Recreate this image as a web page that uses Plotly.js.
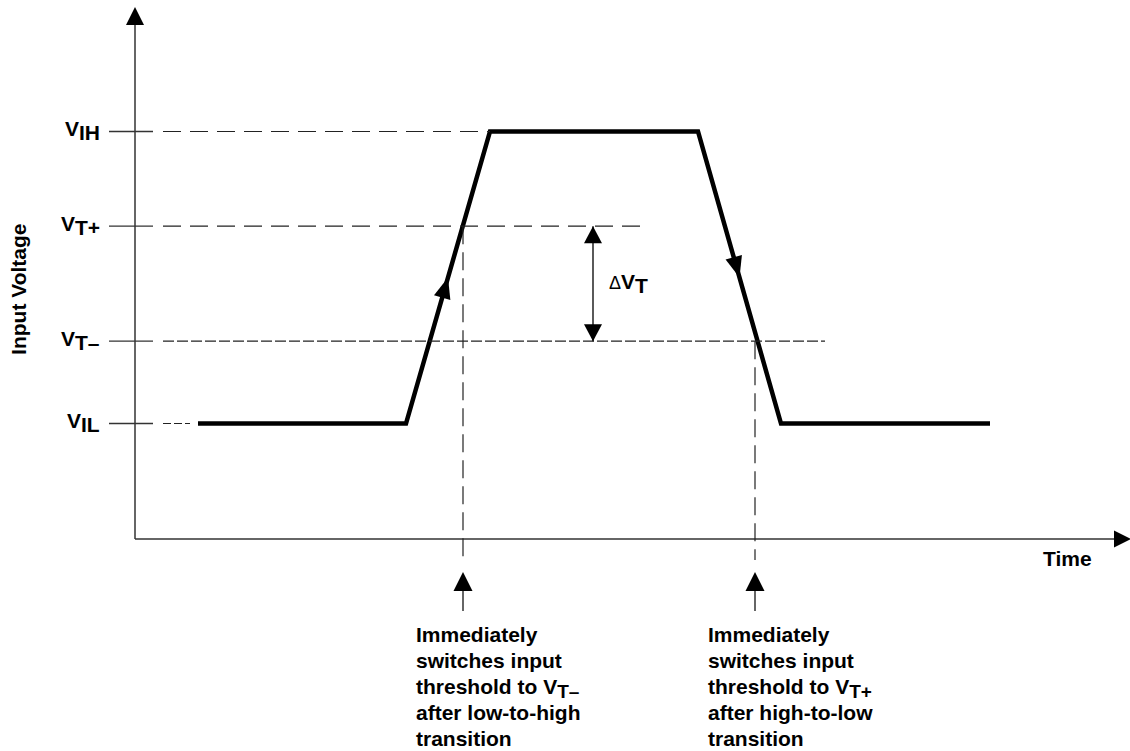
<!DOCTYPE html>
<html><head><meta charset="utf-8">
<script src="https://cdn.plot.ly/plotly-3.0.1.min.js"></script>
<style>html,body{margin:0;padding:0;background:#fff}</style>
</head><body><div id="chart" style="width:1130px;height:751px"></div>
<script>
// ---- data ----
const levelSubs  = ['IL', 'T–', 'T+', 'IH'];          // V_IL, V_T-, V_T+, V_IH
const levelVolts = [0, 0.93, 2.23, 3.3];               // input voltage levels
const guideEnd   = [5.5, 69.0, 51.0, 35.5];            // time where each dashed guide stops
const waveTime   = [6.3, 27.1, 35.5, 56.3, 64.6, 85.5];
const waveVolt   = [0, 0, 3.3, 3.3, 0, 0];
const switchTime = [32.8, 62.0];                        // threshold switching instants
const switchLevel= [2.23, 0.93];
const noteSubs   = ['T–', 'T+'];
const noteEdges  = ['low-to-high', 'high-to-low'];
const deltaTime  = 45.8;                                // position of the ΔVT arrow

// ---- frame / scales ----
const W = 1130, H = 751;
const xRange = [-13.5, 99.5];
const yRange = [-3.701, 4.786];
const kx = W / (xRange[1] - xRange[0]);
const ky = H / (yRange[1] - yRange[0]);
const vAxis = -1.305, yTop = 4.504, xEnd = 97.9, guideStart = 2.8, vBottom = -1.543;

const FONT = 'Arial, "Liberation Sans", Helvetica, sans-serif';
const INK = '#000';
const AX = '#333';

const shapes = [];
const annotations = [];

// axes
shapes.push({type:'line', xref:'x', yref:'y', x0:0, x1:0, y0:vAxis, y1:yTop, line:{color:AX, width:1.5}});
shapes.push({type:'line', xref:'x', yref:'y', x0:0, x1:xEnd, y0:vAxis, y1:vAxis, line:{color:AX, width:1.5}});
shapes.push({type:'path', xref:'x', yref:'y', xsizemode:'pixel', ysizemode:'pixel', xanchor:0, yanchor:yTop,
  path:'M-9,0L9,0L0,18Z', fillcolor:INK, line:{width:0}});
shapes.push({type:'path', xref:'x', yref:'y', xsizemode:'pixel', ysizemode:'pixel', xanchor:xEnd, yanchor:vAxis,
  path:'M0,-8.5L0,8.5L17,0Z', fillcolor:INK, line:{width:0}});

// level ticks, guides and labels
const dashes = ['8px,3px', '11px,3px', '18px,9px', '18px,9px'];
levelVolts.forEach((v, i) => {
  shapes.push({type:'line', xref:'x', yref:'y', xsizemode:'pixel', xanchor:0, x0:-26, x1:18, y0:v, y1:v,
    line:{color:AX, width:1.3}});
  shapes.push({type:'line', xref:'x', yref:'y', x0:guideStart, x1:guideEnd[i], y0:v, y1:v,
    line:{color:'#222', width:1.2, dash:dashes[i]}});
  annotations.push({xref:'x', yref:'y', x:-3.3, y:v, xanchor:'right', yanchor:'middle', showarrow:false,
    text:'V<sub><span style="font-size:21px">' + levelSubs[i] + '</span></sub>',
    font:{family:FONT, size:21, color:INK, weight:700}, yshift:1});
});

// switching verticals, up arrows and notes (one annotation per line)
switchTime.forEach((t, i) => {
  shapes.push({type:'line', xref:'x', yref:'y', x0:t, x1:t, y0:switchLevel[i], y1:vBottom,
    line:{color:'#222', width:1.2, dash:'18px,8px'}});
  shapes.push({type:'path', xref:'x', yref:'y', xsizemode:'pixel', ysizemode:'pixel', xanchor:t, yanchor:vAxis,
    path:'M0,-33L-9.5,-52L9.5,-52Z', fillcolor:INK, line:{width:0}});
  shapes.push({type:'path', xref:'x', yref:'y', xsizemode:'pixel', ysizemode:'pixel', xanchor:t, yanchor:vAxis,
    path:'M0,-52L0,-72', line:{color:AX, width:1.5}});
  const lines = ['Immediately', 'switches input',
    'threshold to V<sub><span style="font-size:19px">' + noteSubs[i] + '</span></sub>',
    'after ' + noteEdges[i], 'transition'];
  lines.forEach((txt, k) => {
    annotations.push({xref:'x', yref:'y', x:t, y:vAxis, xshift:-49, yshift:-(96 + 26*k) + (k === 2 ? -2 : 0),
      xanchor:'left', yanchor:'middle', align:'left', showarrow:false, text:txt,
      font:{family:FONT, size:21, color:INK, weight:700}});
  });
});

// ΔVT double arrow
shapes.push({type:'line', xref:'x', yref:'y', x0:deltaTime, x1:deltaTime, y0:levelVolts[2], y1:levelVolts[1],
  line:{color:INK, width:1.3}});
shapes.push({type:'path', xref:'x', yref:'y', xsizemode:'pixel', ysizemode:'pixel', xanchor:deltaTime, yanchor:levelVolts[2],
  path:'M0,0L-9,-17L9,-17Z', fillcolor:INK, line:{width:0}});
shapes.push({type:'path', xref:'x', yref:'y', xsizemode:'pixel', ysizemode:'pixel', xanchor:deltaTime, yanchor:levelVolts[1],
  path:'M0,0L-9,17L9,17Z', fillcolor:INK, line:{width:0}});
annotations.push({xref:'x', yref:'y', x:deltaTime, xshift:14, y:(levelVolts[1]+levelVolts[2])/2, xanchor:'left', yanchor:'middle',
  showarrow:false,
  text:'<span style="font-weight:normal;font-size:18px">Δ</span>V<sub><span style="font-size:21px">T</span></sub>',
  font:{family:FONT, size:21, color:INK, weight:700}});

// arrowheads on the rising and falling edges (at each edge midpoint)
[1, 3].forEach(i => {
  const t0 = waveTime[i], t1 = waveTime[i+1], v0 = waveVolt[i], v1 = waveVolt[i+1];
  const dx = (t1 - t0) * kx, dy = (v1 - v0) * ky;
  const len = Math.hypot(dx, dy), ux = dx/len, uy = dy/len, nx = -uy, ny = ux;
  const L = 21, Hw = 8.5;
  const bx = -ux*L, by = -uy*L;
  const f = n => n.toFixed(2);
  shapes.push({type:'path', xref:'x', yref:'y', xsizemode:'pixel', ysizemode:'pixel',
    xanchor:(t0+t1)/2, yanchor:(v0+v1)/2,
    path:'M0,0L' + f(bx+nx*Hw) + ',' + f(by+ny*Hw) + 'L' + f(bx-nx*Hw) + ',' + f(by-ny*Hw) + 'Z',
    fillcolor:INK, line:{width:0}});
});

// axis titles
annotations.push({xref:'x', yref:'y', x:-11.6, y:1.51, textangle:-90, showarrow:false, text:'Input Voltage',
  font:{family:FONT, size:21, color:INK, weight:700}});
annotations.push({xref:'x', yref:'y', x:93.2, y:-1.52, showarrow:false, text:'Time',
  font:{family:FONT, size:21, color:INK, weight:700}});

const traces = [{
  type:'scatter', mode:'lines', x:waveTime, y:waveVolt,
  line:{color:INK, width:4.5}, hoverinfo:'skip', showlegend:false
}];

const layout = {
  width:W, height:H, margin:{l:0, r:0, t:0, b:0},
  paper_bgcolor:'#fff', plot_bgcolor:'#fff', showlegend:false,
  xaxis:{range:xRange, visible:false, fixedrange:true},
  yaxis:{range:yRange, visible:false, fixedrange:true},
  shapes:shapes, annotations:annotations
};
Plotly.newPlot('chart', traces, layout, {staticPlot:true, displayModeBar:false});
</script></body></html>
